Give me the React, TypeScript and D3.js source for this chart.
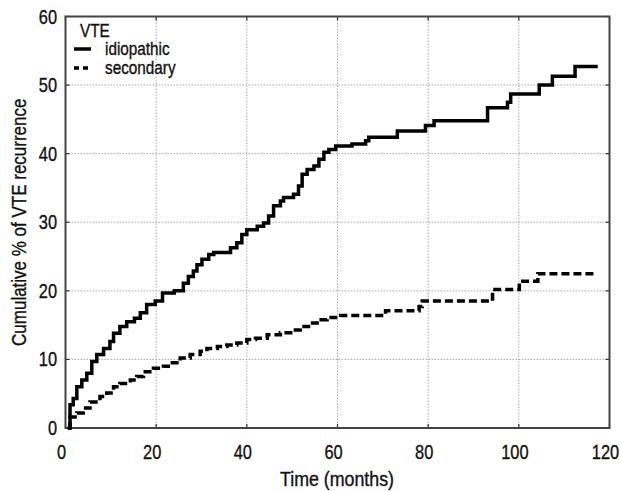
import React from "react";
import * as d3 from "d3";

const xTicks = [0, 20, 40, 60, 80, 100, 120];
const yTicks = [0, 10, 20, 30, 40, 50, 60];

const idiopathicT = [0.5, 1.0, 1.7, 2.5, 3.6, 4.7, 5.8, 6.9, 8.4, 9.8, 10.6, 12.0, 13.5, 15.2, 16.5, 17.9, 19.8, 21.4, 24.0, 26.0, 27.1, 28.2, 29.0, 30.1, 31.6, 32.7, 36.4, 37.8, 38.9, 40.0, 42.3, 43.7, 44.8, 45.9, 47.4, 48.1, 50.3, 51.4, 52.2, 53.3, 54.8, 55.9, 57.0, 58.1, 59.6, 63.2, 66.2, 66.9, 73.2, 79.4, 81.3, 93.1, 97.5, 98.2, 104.5, 107.4, 112.4, 117.4];
const idiopathicV = [0, 3.4, 4.3, 6.0, 7.0, 8.0, 9.7, 10.7, 11.6, 12.6, 13.8, 14.8, 15.5, 16.0, 16.8, 18.0, 18.5, 19.7, 20.0, 21.1, 22.1, 22.9, 23.8, 24.6, 25.3, 25.6, 26.3, 27.0, 28.2, 28.9, 29.4, 29.9, 30.9, 32.4, 33.1, 33.6, 34.1, 35.3, 37.0, 37.7, 38.2, 39.2, 40.2, 40.6, 41.1, 41.4, 41.9, 42.4, 43.3, 44.1, 44.8, 46.7, 47.5, 48.7, 50.0, 51.3, 52.7, 52.7];

const secondaryT = [0.5, 1.0, 2.5, 3.9, 5.4, 7.6, 9.1, 10.6, 12.0, 14.3, 15.7, 17.2, 19.4, 21.6, 23.1, 25.3, 27.5, 29.7, 31.2, 33.5, 35.6, 37.8, 40.0, 41.9, 44.5, 47.4, 50.3, 51.8, 54.0, 55.9, 57.7, 60.7, 70.6, 78.0, 78.7, 94.2, 100.1, 104.2, 117.0];
const secondaryV = [0, 1.6, 2.2, 2.9, 3.8, 4.6, 5.1, 6.0, 6.5, 7.0, 7.5, 8.2, 8.7, 9.0, 9.5, 10.2, 10.7, 11.2, 11.6, 11.9, 12.1, 12.4, 12.9, 13.1, 13.6, 13.9, 14.3, 14.8, 15.3, 15.8, 16.1, 16.4, 17.1, 17.7, 18.5, 20.2, 21.4, 22.5, 22.5];

const W = 620;
const H = 491;
const left = 65.5;
const right = 609.5;
const top = 16.5;
const bottom = 428;
const FONT = "'Liberation Sans', Arial, sans-serif";

function T(props: { x: number; y: number; size: number; sx: number; anchor?: string; rotate?: number; children: React.ReactNode }) {
  const { x, y, size, sx, anchor, rotate, children } = props;
  const tr = `translate(${x},${y})${rotate ? ` rotate(${rotate})` : ""} scale(${sx},1)`;
  return (
    <text transform={tr} textAnchor={anchor || "start"} fontSize={size} fill="#111" stroke="#111" strokeWidth={0.35}>
      {children}
    </text>
  );
}

export default function App() {
  const x = d3.scaleLinear().domain([0, 120]).range([left, right]);
  const y = d3.scaleLinear().domain([0, 60]).range([bottom, top]);
  const line = d3
    .line<[number, number]>()
    .x((d) => x(d[0]))
    .y((d) => y(d[1]))
    .curve(d3.curveStepAfter);
  const idio: [number, number][] = idiopathicT.map((t, i) => [t, idiopathicV[i]]);
  const sec: [number, number][] = secondaryT.map((t, i) => [t, secondaryV[i]]);

  return (
    <svg width={W} height={H} style={{ position: "absolute", left: 0, top: 0, background: "#fff" }} fontFamily={FONT}>
      <rect x={0} y={0} width={W} height={H} fill="#fff" />
      {xTicks.slice(1, -1).map((t) => (
        <line key={"gx" + t} x1={x(t)} x2={x(t)} y1={top} y2={bottom} stroke="#aaa" strokeWidth={1} strokeDasharray="1.5,1.5" />
      ))}
      {yTicks.slice(1, -1).map((t) => (
        <line key={"gy" + t} x1={left} x2={right} y1={y(t)} y2={y(t)} stroke="#aaa" strokeWidth={1} strokeDasharray="1.5,1.5" />
      ))}
      {xTicks.map((t) => (
        <g key={"tx" + t}>
          <line x1={x(t)} x2={x(t)} y1={bottom} y2={bottom - 4} stroke="#333" strokeWidth={1.2} />
          <line x1={x(t)} x2={x(t)} y1={top} y2={top + 4} stroke="#333" strokeWidth={1.2} />
          <T x={x(t) - 4} y={459} size={20} sx={0.82} anchor="middle">{t}</T>
        </g>
      ))}
      {yTicks.map((t) => (
        <g key={"ty" + t}>
          <line x1={left} x2={left + 4} y1={y(t)} y2={y(t)} stroke="#333" strokeWidth={1.2} />
          <line x1={right} x2={right - 4} y1={y(t)} y2={y(t)} stroke="#333" strokeWidth={1.2} />
          <T x={57} y={y(t) + 7} size={20} sx={0.82} anchor="end">{t}</T>
        </g>
      ))}
      <rect x={left} y={top} width={right - left} height={bottom - top} fill="none" stroke="#444" strokeWidth={2} />
      <path d={line(sec) || ""} fill="none" stroke="#000" strokeWidth={3.5} strokeDasharray="8,4" />
      <path d={line(idio) || ""} fill="none" stroke="#000" strokeWidth={3.5} />
      <T x={80} y={37} size={18} sx={0.85}>VTE</T>
      <line x1={74} x2={91} y1={49} y2={49} stroke="#000" strokeWidth={3.5} />
      <T x={105} y={55} size={18} sx={0.85}>idiopathic</T>
      <line x1={74} x2={91} y1={68} y2={68} stroke="#000" strokeWidth={3.5} strokeDasharray="5,4" />
      <T x={105} y={74} size={18} sx={0.85}>secondary</T>
      <T x={337} y={486} size={20} sx={0.89} anchor="middle">Time (months)</T>
      <T x={26} y={(top + bottom) / 2} size={20} sx={0.85} anchor="middle" rotate={-90}>Cumulative % of VTE recurrence</T>
    </svg>
  );
}
